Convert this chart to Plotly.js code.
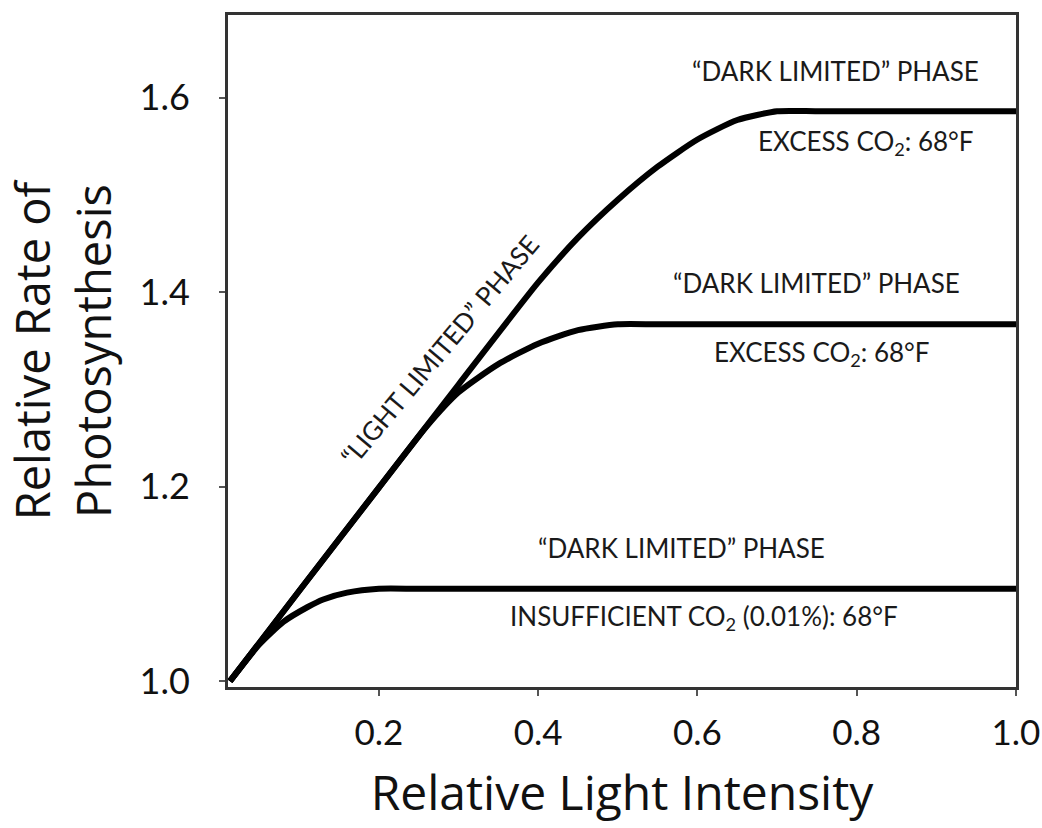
<!DOCTYPE html>
<html>
<head>
<meta charset="utf-8">
<script src="https://cdn.plot.ly/plotly-3.0.1.min.js"></script>
<style>html,body{margin:0;padding:0;background:#fff}#chart{width:1042px;height:828px}</style>
</head>
<body>
<div id="chart"></div>
<script>
// Excess CO2 (upper curve)
const xUpper = [0.013, 0.1, 0.2, 0.3, 0.4, 0.45, 0.5, 0.55, 0.6, 0.65, 0.7, 0.75, 0.85, 1.0];
const yUpper = [1.0, 1.093, 1.199, 1.305, 1.41, 1.456, 1.495, 1.529, 1.557, 1.577, 1.586, 1.586, 1.586, 1.586];
// Excess CO2 (middle curve)
const xMiddle = [0.013, 0.1, 0.2, 0.26, 0.3, 0.35, 0.4, 0.45, 0.5, 0.55, 0.7, 1.0];
const yMiddle = [1.0, 1.093, 1.199, 1.262, 1.297, 1.326, 1.347, 1.361, 1.367, 1.367, 1.367, 1.367];
// Insufficient CO2 (lower curve)
const xLower = [0.013, 0.05, 0.08, 0.11, 0.13, 0.16, 0.2, 0.25, 0.5, 1.0];
const yLower = [1.0, 1.038, 1.061, 1.076, 1.084, 1.091, 1.095, 1.095, 1.095, 1.095];

const xTicks = [0.2, 0.4, 0.6, 0.8, 1.0];
const xTickText = ['0.2', '0.4', '0.6', '0.8', '1.0'];
const yTicks = [1.0, 1.2, 1.4, 1.6];
const yTickText = ['1.0', '1.2', '1.4', '1.6'];

const labelFont = {family: 'Lato, "Open Sans", sans-serif', size: 26, color: '#1a1a1a'};

function curve(x, y, name) {
  return {x: x, y: y, name: name, type: 'scatter', mode: 'lines',
    line: {color: '#000', width: 6, shape: 'spline', smoothing: 0.6}, hoverinfo: 'x+y'};
}

const data = [
  curve(xUpper, yUpper, 'Excess CO₂: 68°F (upper)'),
  curve(xMiddle, yMiddle, 'Excess CO₂: 68°F'),
  curve(xLower, yLower, 'Insufficient CO₂ (0.01%): 68°F')
];

const annotations = [
  {x: 0.773, y: 1.627, text: '“DARK LIMITED” PHASE'},
  {x: 0.812, y: 1.554, text: 'EXCESS CO<sub>2</sub>: 68°F'},
  {x: 0.750, y: 1.409, text: '“DARK LIMITED” PHASE'},
  {x: 0.756, y: 1.337, text: 'EXCESS CO<sub>2</sub>: 68°F'},
  {x: 0.580, y: 1.137, text: '“DARK LIMITED” PHASE'},
  {x: 0.608, y: 1.065, text: 'INSUFFICIENT CO<sub>2</sub> (0.01%): 68°F'},
  {x: 0.276, y: 1.341, text: '“LIGHT LIMITED” PHASE', textangle: -50}
].map(a => Object.assign({xref: 'x', yref: 'y', showarrow: false, font: labelFont,
  xanchor: 'center', yanchor: 'middle'}, a));

const layout = {
  width: 1042, height: 828,
  margin: {l: 228, r: 26, t: 15, b: 141},
  paper_bgcolor: '#fff', plot_bgcolor: '#fff',
  showlegend: false,
  xaxis: {
    range: [0.0105, 1.0], tickvals: xTicks, ticktext: xTickText,
    showgrid: false, zeroline: false,
    showline: true, linecolor: '#333', linewidth: 3, mirror: true,
    ticks: 'outside', ticklen: 6, tickwidth: 2, tickcolor: '#555',
    ticklabelstandoff: 7,
    tickfont: {family: 'Lato, sans-serif', size: 35, color: '#111'},
    title: {text: 'Relative Light Intensity', standoff: 26,
      font: {family: '"Open Sans", sans-serif', size: 48, color: '#111'}}
  },
  yaxis: {
    range: [0.994, 1.685], tickvals: yTicks, ticktext: yTickText,
    showgrid: false, zeroline: false,
    showline: true, linecolor: '#333', linewidth: 3, mirror: true,
    ticks: 'outside', ticklen: 6, tickwidth: 2, tickcolor: '#555',
    ticklabelstandoff: 22,
    tickfont: {family: 'Lato, sans-serif', size: 36, color: '#111'},
    title: {text: 'Relative Rate of<br>Photosynthesis', standoff: 18,
      font: {family: '"Open Sans", sans-serif', size: 47, color: '#111'}}
  },
  annotations: annotations
};

Plotly.newPlot('chart', data, layout, {displayModeBar: false});
</script>
</body>
</html>
